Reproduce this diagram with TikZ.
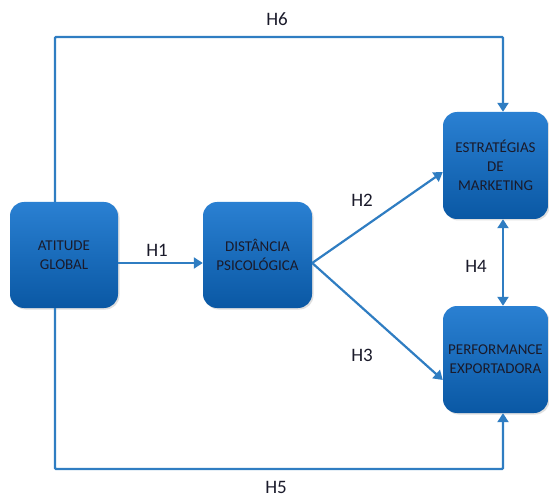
\documentclass[tikz,border=0pt]{standalone}
\usepackage{fontspec}
\setmainfont{Carlito}
\usetikzlibrary{arrows.meta,shadows}
\definecolor{boxtop}{HTML}{2A80D2}
\definecolor{boxbot}{HTML}{0A58A4}
\definecolor{linecol}{HTML}{2F7DC2}
\definecolor{txt}{HTML}{1A1A2A}
\tikzset{
  blk/.style={rectangle, rounded corners=14pt, minimum width=#1, minimum height=106pt,
    top color=boxtop, bottom color=boxbot, draw=none, align=center,
    font=\fontsize{15}{19}\selectfont, text=txt, inner sep=1pt,
    drop shadow={shadow xshift=1.5pt, shadow yshift=-1.5pt, opacity=0.25}},
  conn/.style={draw=linecol, line width=2.2pt, -{Triangle[width=11pt,length=9pt]}},
  conn2/.style={draw=linecol, line width=2.2pt, {Triangle[width=11pt,length=9pt]}-{Triangle[width=11pt,length=9pt]}},
  lab/.style={font=\fontsize{19}{21}\selectfont, text=txt, inner sep=0pt}
}
\begin{document}
\begin{tikzpicture}[x=1pt,y=-1pt]
\useasboundingbox (0,0) rectangle (549,497);
\node[blk=108pt] (A) at (64,255) {ATITUDE\\GLOBAL};
\node[blk=109pt] (D) at (257.5,255) {DISTÂNCIA\\PSICOLÓGICA};
\node[blk=105pt, minimum height=107pt] (E) at (495.5,165.5) {ESTRATÉGIAS\\DE\\MARKETING};
\node[blk=105pt, minimum height=107pt] (P) at (495.5,359.5) {PERFORMANCE\\EXPORTADORA};
\coordinate (tl) at (55,37);
\coordinate (tr) at (503,37);
\coordinate (bl) at (55,469);
\coordinate (br) at (503,469);
\draw[conn] ([yshift=-8pt]A.east) -- ([yshift=-8pt]D.west);
\draw[conn] ([yshift=-8pt]D.east) -- ([yshift=-6.5pt]E.west);
\draw[conn] ([yshift=-8pt]D.east) -- ([yshift=-20.5pt]P.west);
\draw[conn2] ([xshift=7.5pt]E.south) -- ([xshift=7.5pt]P.north);
\draw[conn, rounded corners=1pt] ([xshift=-9pt]A.north) -- (tl) -- (tr) -- ([xshift=7.5pt]E.north);
\draw[conn, rounded corners=1pt] ([xshift=-9pt]A.south) -- (bl) -- (br) -- ([xshift=7.5pt]P.south);
\node[lab] (h1) at (157,250) {H1};
\node[lab] (h2) at (362,200) {H2};
\node[lab] (h3) at (362,355) {H3};
\node[lab] (h4) at (476,266) {H4};
\node[lab] (h5) at (276,487) {H5};
\node[lab] (h6) at (277,19) {H6};
\end{tikzpicture}
\end{document}
